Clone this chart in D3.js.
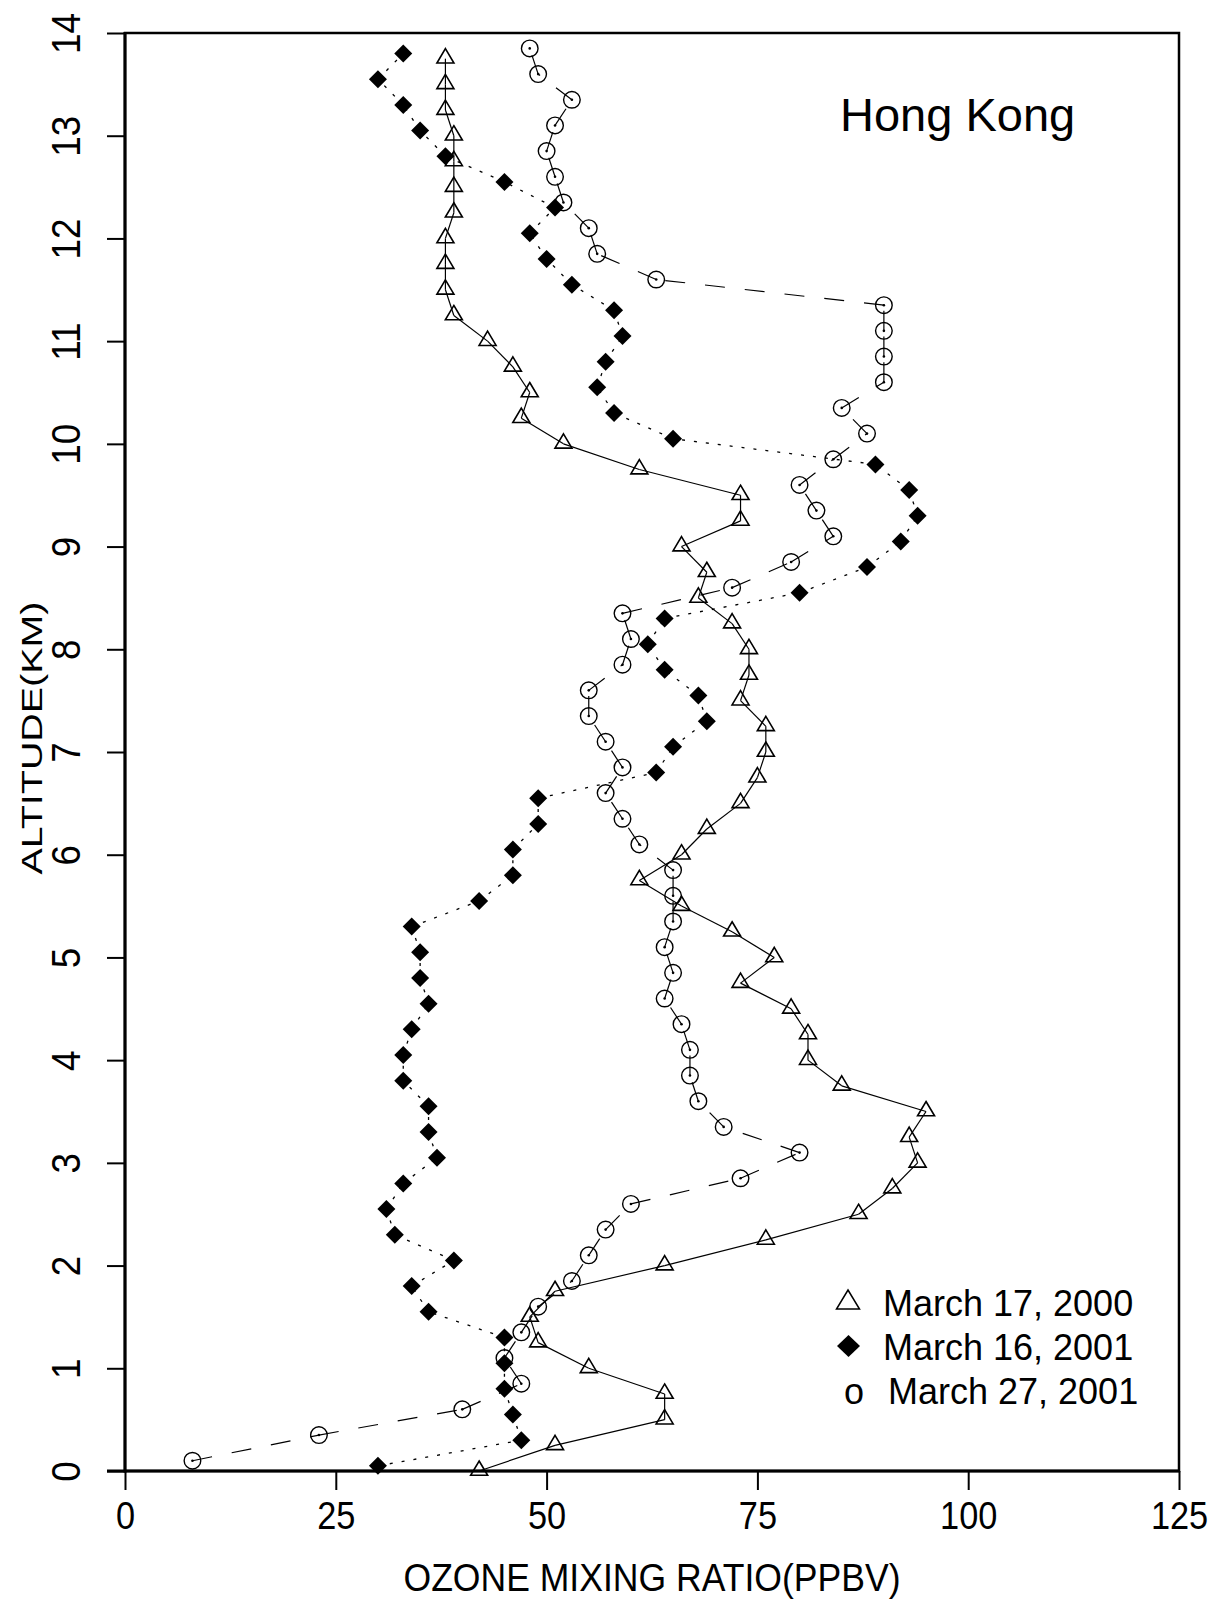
<!DOCTYPE html>
<html>
<head>
<meta charset="utf-8">
<script src="https://cdn.jsdelivr.net/npm/d3@7"></script>
<style>
  html, body { margin: 0; padding: 0; background: #fff; }
  svg { display: block; }
</style>
</head>
<body>
<svg id="chart" width="1223" height="1602"></svg>
<script>
// Ozone soundings over Hong Kong: altitude (km) vs ozone mixing ratio (ppbv)

const seriesNames = ["March 17, 2000", "March 16, 2001", "March 27, 2001"];

// March 17, 2000 (open triangles, solid line)
const altMar17 = [0, 0.25, 0.5, 0.75, 1, 1.25, 1.5, 1.75, 2, 2.25, 2.5, 2.75, 3, 3.25, 3.5, 3.75,
  4, 4.25, 4.5, 4.75, 5, 5.25, 5.5, 5.75, 6, 6.25, 6.5, 6.75, 7, 7.25, 7.5, 7.75, 8, 8.25, 8.5, 8.75,
  9, 9.25, 9.5, 9.75, 10, 10.25, 10.5, 10.75, 11, 11.25, 11.5, 11.75, 12, 12.25, 12.5, 12.75,
  13, 13.25, 13.5, 13.75];
const o3Mar17 = [42, 51, 64, 64, 55, 49, 48, 51, 64, 76, 87, 91, 94, 93, 95, 85,
  81, 81, 79, 73, 77, 72, 66, 61, 66, 69, 73, 75, 76, 76, 73, 74, 74, 72, 68, 69,
  66, 73, 73, 61, 52, 47, 48, 46, 43, 39, 38, 38, 38, 39, 39, 39,
  39, 38, 38, 38];

// March 16, 2001 (filled diamonds, dotted line)
const altMar16 = [0.05, 0.3, 0.55, 0.8, 1.05, 1.3, 1.55, 1.8, 2.05, 2.3, 2.55, 2.8, 3.05, 3.3, 3.55, 3.8,
  4.05, 4.3, 4.55, 4.8, 5.05, 5.3, 5.55, 5.8, 6.05, 6.3, 6.55, 6.8, 7.05, 7.3, 7.55, 7.8, 8.05, 8.3,
  8.55, 8.8, 9.05, 9.3, 9.55, 9.8, 10.05, 10.3, 10.55, 10.8, 11.05, 11.3, 11.55, 11.8, 12.05, 12.3,
  12.55, 12.8, 13.05, 13.3, 13.55, 13.8];
const o3Mar16 = [30, 47, 46, 45, 45, 45, 36, 34, 39, 32, 31, 33, 37, 36, 36, 33,
  33, 34, 36, 35, 35, 34, 42, 46, 46, 49, 49, 63, 65, 69, 68, 64, 62, 64,
  80, 88, 92, 94, 93, 89, 65, 58, 56, 57, 59, 58, 53, 50, 48, 51,
  45, 38, 35, 33, 30, 33];

// March 27, 2001 (open circles, dashed line)
const altMar27 = [0.1, 0.35, 0.6, 0.85, 1.1, 1.35, 1.6, 1.85, 2.1, 2.35, 2.6, 2.85, 3.1, 3.35, 3.6, 3.85,
  4.1, 4.35, 4.6, 4.85, 5.1, 5.35, 5.6, 5.85, 6.1, 6.35, 6.6, 6.85, 7.1, 7.35, 7.6, 7.85, 8.1, 8.35,
  8.6, 8.85, 9.1, 9.35, 9.6, 9.85, 10.1, 10.35, 10.6, 10.85, 11.1, 11.35, 11.6, 11.85, 12.1, 12.35,
  12.6, 12.85, 13.1, 13.35, 13.6, 13.85];
const o3Mar27 = [8, 23, 40, 47, 45, 47, 49, 53, 55, 57, 60, 73, 80, 71, 68, 67,
  67, 66, 64, 65, 64, 65, 65, 65, 61, 59, 57, 59, 57, 55, 55, 59, 60, 59,
  72, 79, 84, 82, 80, 84, 88, 85, 90, 90, 90, 90, 63, 56, 55, 52,
  51, 50, 51, 53, 49, 48];

const xTickValues = [0, 25, 50, 75, 100, 125];
const yTickValues = [0, 1, 2, 3, 4, 5, 6, 7, 8, 9, 10, 11, 12, 13, 14];
const xTitle = "OZONE MIXING RATIO(PPBV)";
const yTitle = "ALTITUDE(KM)";
const siteName = "Hong Kong";

const FONT = "'Liberation Sans', Arial, Helvetica, sans-serif";

const svg = d3.select("#chart");
const x = d3.scaleLinear().domain([0, 125]).range([125, 1179]);
const y = d3.scaleLinear().domain([0, 14]).range([1471, 33]);

// plot frame
svg.append("rect")
  .attr("x", x(0)).attr("y", y(14))
  .attr("width", x(125) - x(0)).attr("height", y(0) - y(14))
  .attr("fill", "none").attr("stroke", "#000").attr("stroke-width", 2.5);

// x axis
const gx = svg.append("g")
  .attr("transform", `translate(0,${y(0)})`)
  .call(d3.axisBottom(x).tickValues(xTickValues).tickSize(19).tickSizeOuter(0).tickFormat(d3.format("d")));
gx.select(".domain").remove();
gx.selectAll(".tick line").attr("stroke", "#000").attr("stroke-width", 2);
gx.selectAll(".tick text")
  .attr("y", 58).attr("dy", null)
  .attr("fill", "#000")
  .attr("font-family", FONT).attr("font-size", 39)
  .attr("transform", "scale(0.88,1)");

// y axis
const gy = svg.append("g")
  .attr("transform", `translate(${x(0)},0)`)
  .call(d3.axisLeft(y).tickValues(yTickValues).tickSize(18).tickSizeOuter(0).tickFormat(d3.format("d")));
gy.select(".domain").remove();
gy.selectAll(".tick line").attr("stroke", "#000").attr("stroke-width", 2);
gy.selectAll(".tick text")
  .attr("x", null).attr("dy", null)
  .attr("text-anchor", "middle")
  .attr("fill", "#000")
  .attr("font-family", FONT).attr("font-size", 40)
  .attr("transform", "translate(-45,0) rotate(-90) scale(0.92,1)");

// heavier left and bottom axis lines
svg.append("line").attr("x1", x(0)).attr("x2", x(0)).attr("y1", y(14) - 1).attr("y2", y(0) + 1.5)
  .attr("stroke", "#000").attr("stroke-width", 3);
svg.append("line").attr("x1", x(0) - 18).attr("x2", x(125) + 1).attr("y1", y(0)).attr("y2", y(0))
  .attr("stroke", "#000").attr("stroke-width", 3);

// axis titles
svg.append("text")
  .attr("x", 652).attr("y", 1591)
  .attr("text-anchor", "middle")
  .attr("font-family", FONT).attr("font-size", 38)
  .attr("textLength", 497).attr("lengthAdjust", "spacingAndGlyphs")
  .text(xTitle);
svg.append("text")
  .attr("transform", "translate(42,738) rotate(-90)")
  .attr("text-anchor", "middle")
  .attr("font-family", FONT).attr("font-size", 30)
  .attr("textLength", 273).attr("lengthAdjust", "spacingAndGlyphs")
  .text(yTitle);

// site label
svg.append("text")
  .attr("x", 840).attr("y", 131)
  .attr("font-family", FONT).attr("font-size", 47)
  .text(siteName);

// series
const toPoints = (alts, vals) => alts.map((a, i) => ({ a, v: vals[i] }));
const ptsMar17 = toPoints(altMar17, o3Mar17);
const ptsMar16 = toPoints(altMar16, o3Mar16);
const ptsMar27 = toPoints(altMar27, o3Mar27);

// each segment drawn on its own so dash patterns start at the lower level
function drawSegments(points, dash, width) {
  svg.append("g").selectAll("line")
    .data(d3.pairs(points))
    .join("line")
    .attr("x1", d => x(d[0].v)).attr("y1", d => y(d[0].a))
    .attr("x2", d => x(d[1].v)).attr("y2", d => y(d[1].a))
    .attr("stroke", "#000").attr("stroke-width", width)
    .attr("stroke-dasharray", dash);
}
drawSegments(ptsMar17, null, 1.2);
drawSegments(ptsMar16, "3,9", 1.3);
drawSegments(ptsMar27, "20,20", 1.2);

const triPath = "M0,-10L8.5,4.3L-8.5,4.3Z";
const diaPath = "M0,-9L9,0L0,9L-9,0Z";

svg.append("g").selectAll("path")
  .data(ptsMar17).join("path")
  .attr("d", triPath)
  .attr("transform", d => `translate(${x(d.v)},${y(d.a)})`)
  .attr("fill", "none").attr("stroke", "#000").attr("stroke-width", 1.6)
  .attr("stroke-linejoin", "miter");

svg.append("g").selectAll("path")
  .data(ptsMar16).join("path")
  .attr("d", diaPath)
  .attr("transform", d => `translate(${x(d.v)},${y(d.a)})`)
  .attr("fill", "#000");

const gc = svg.append("g");
gc.selectAll("circle.ring")
  .data(ptsMar27).join("circle")
  .attr("class", "ring")
  .attr("cx", d => x(d.v)).attr("cy", d => y(d.a)).attr("r", 8.3)
  .attr("fill", "none").attr("stroke", "#000").attr("stroke-width", 1.4);
gc.selectAll("circle.dot")
  .data(ptsMar27).join("circle")
  .attr("class", "dot")
  .attr("cx", d => x(d.v)).attr("cy", d => y(d.a)).attr("r", 1.3)
  .attr("fill", "#000");

// legend
const legend = svg.append("g").attr("font-family", FONT).attr("font-size", 36).attr("fill", "#000");
legend.append("path")
  .attr("d", "M0,-12L11.5,7L-11.5,7Z")
  .attr("transform", "translate(848,1302)")
  .attr("fill", "none").attr("stroke", "#000").attr("stroke-width", 1.5);
legend.append("text").attr("x", 883).attr("y", 1316).text(seriesNames[0]);
legend.append("path")
  .attr("d", "M0,-11L11.5,0L0,11L-11.5,0Z")
  .attr("transform", "translate(848.5,1346)")
  .attr("fill", "#000");
legend.append("text").attr("x", 883).attr("y", 1360).text(seriesNames[1]);
legend.append("text").attr("x", 844).attr("y", 1404).text("o");
legend.append("text").attr("x", 888).attr("y", 1404).text(seriesNames[2]);
</script>
</body>
</html>
